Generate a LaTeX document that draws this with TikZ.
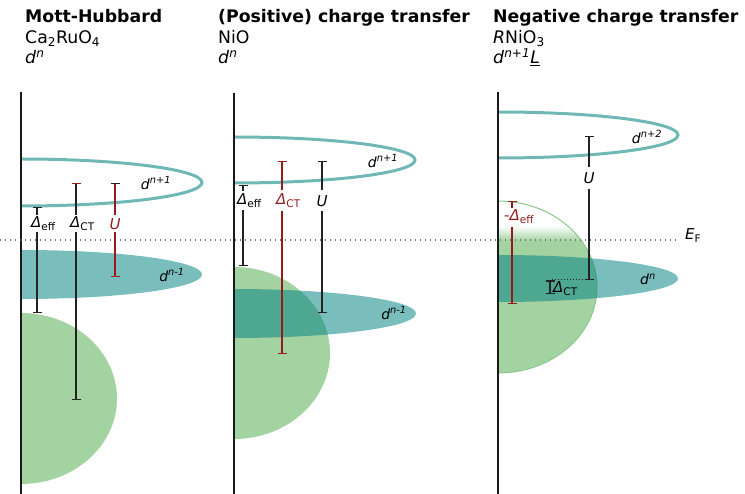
\documentclass[tikz,border=0pt]{standalone}
\usepackage{fontspec}
\setmainfont{DejaVu Sans}
\usetikzlibrary{arrows.meta}
\definecolor{tealfill}{RGB}{0,128,128}
\definecolor{tealline}{RGB}{112,184,181}
\definecolor{greenfill}{RGB}{164,211,162}
\definecolor{greenline}{RGB}{140,200,140}
\definecolor{barred}{RGB}{150,28,28}
\definecolor{bargray}{RGB}{35,35,35}
\begin{document}
\begin{tikzpicture}[x=1pt,y=-1pt,
  title/.style={anchor=base west,inner sep=0pt,font=\fontsize{17.3}{20}\selectfont\bfseries},
  sub/.style={anchor=base west,inner sep=0pt,font=\fontsize{17.3}{20}\selectfont},
  lbl/.style={inner sep=0pt,font=\fontsize{15}{18}\selectfont},
  dlbl/.style={inner sep=0pt,font=\fontsize{14}{17}\selectfont},
  axis/.style={line width=2pt,black!90},
  outl/.style={line width=3pt,tealline},
  bandfill/.style={fill=tealfill,fill opacity=0.52},
  oxy/.style={fill=greenfill},
  topbar/.style={line width=1.1pt,{Bar[width=9pt]}-},
  botbar/.style={line width=1.1pt,-{Bar[width=9pt]}},
  fermi/.style={line width=1.2pt,black!55,dash pattern=on 1.2pt off 3.8pt},
]
\useasboundingbox (0,0) rectangle (745,494);

% ---------- titles ----------
\node[title] (t1) at (25,22.7) {Mott-Hubbard};
\node[sub] (m1) at (25,43.5) {Ca\textsubscript{2}RuO\textsubscript{4}};
\node[sub] (c1) at (25,63.5) {\textit{d}\textsuperscript{\itshape n}};
\node[title] (t2) at (218,22.7) {(Positive) charge transfer};
\node[sub] (m2) at (218,43.5) {NiO};
\node[sub] (c2) at (218,63.5) {\textit{d}\textsuperscript{\itshape n}};
\node[title] (t3) at (493,22.7) {Negative charge transfer};
\node[sub] (m3) at (493,43.5) {\textit{R}NiO\textsubscript{3}};
\node[sub] (c3) at (493,63.5) {\textit{d}\textsuperscript{\itshape n+1}\underline{\textit{L}}};

% ---------- panel 1 ----------
\fill[oxy] (21,313) arc[start angle=-90,end angle=90,x radius=96,y radius=85.5] -- cycle;
\fill[bandfill] (21,250) arc[start angle=-90,end angle=90,x radius=181,y radius=24.5] -- cycle;
\draw[outl] (21,159) arc[start angle=-90,end angle=90,x radius=181,y radius=23.5];

% ---------- panel 2 ----------
\fill[oxy] (234,267) arc[start angle=-90,end angle=90,x radius=96,y radius=86] -- cycle;
\fill[bandfill] (234,289) arc[start angle=-90,end angle=90,x radius=182,y radius=24.5] -- cycle;
\draw[outl] (234,137) arc[start angle=-90,end angle=90,x radius=181,y radius=23];

% ---------- panel 3 ----------
\begin{scope}
  \clip (498,201) arc[start angle=-90,end angle=90,x radius=99,y radius=86] -- cycle;
  \fill[greenfill] (498,240) rectangle (600,380);
  \shade[top color=white,bottom color=greenfill] (498,226) rectangle (600,240.5);
\end{scope}
\draw[greenline,line width=1pt] (498,201) arc[start angle=-90,end angle=90,x radius=99,y radius=86];
\fill[bandfill] (498,255) arc[start angle=-90,end angle=90,x radius=180,y radius=23.5] -- cycle;
\draw[outl] (498,112) arc[start angle=-90,end angle=90,x radius=180,y radius=23];

% ---------- axes ----------
\draw[axis] (21,92) -- (21,494);
\draw[axis] (234,93) -- (234,494);
\draw[axis] (498,92) -- (498,494);

% ---------- Fermi level ----------
\coordinate (ef0) at (0,240);
\node[lbl,anchor=base west] (ef) at (685,240) {\textit{E}\textsubscript{F}};
\draw[fermi] (ef0) -- (678,240);

% ---------- band labels ----------
\node[dlbl] (a1) at (156,183) {\textit{d}\textsuperscript{\itshape n+1}};
\node[dlbl] (b1) at (172,275) {\textit{d}\textsuperscript{\itshape n-1}};
\node[dlbl] (a2) at (383,161) {\textit{d}\textsuperscript{\itshape n+1}};
\node[dlbl] (b2) at (394,313) {\textit{d}\textsuperscript{\itshape n-1}};
\node[dlbl] (a3) at (647,137) {\textit{d}\textsuperscript{\itshape n+2}};
\node[dlbl] (b3) at (648,279) {\textit{d}\textsuperscript{\itshape n}};

% ---------- panel 1 bars ----------
\node[lbl,anchor=west] (deff1) at (31,224) {\textit{Δ}\textsubscript{eff}};
\draw[bargray,topbar] (37,207) -- (37,215);
\draw[bargray,botbar] (37,232) -- (37,313);
\node[lbl,anchor=west] (dct1) at (70,224) {\textit{Δ}\textsubscript{CT}};
\draw[bargray,line width=1.1pt,{Bar[width=9pt,color=barred]}-] (76,183) -- (76,215);
\draw[bargray,botbar] (76,232) -- (76,400);
\node[lbl,text=barred] (u1) at (115,224) {\textit{U}};
\draw[barred,line width=1.1pt,{Bar[width=9pt,color=bargray]}-] (115,183) -- (115,215);
\draw[barred,botbar] (115,232) -- (115,277);

% ---------- panel 2 bars ----------
\node[lbl,anchor=west] (deff2) at (237,201) {\textit{Δ}\textsubscript{eff}};
\draw[bargray,topbar] (243,185) -- (243,191);
\draw[bargray,botbar] (243,210) -- (243,266);
\node[lbl,anchor=west,text=barred] (dct2) at (276,201) {\textit{Δ}\textsubscript{CT}};
\draw[barred,topbar] (282,161) -- (282,190);
\draw[barred,botbar] (282,211) -- (282,354);
\node[lbl] (u2) at (322,201) {\textit{U}};
\draw[bargray,topbar] (322,161) -- (322,190);
\draw[bargray,botbar] (322,211) -- (322,313);

% ---------- panel 3 bars ----------
\node[lbl,anchor=west,text=barred] (deff3) at (504,217) {-\textit{Δ}\textsubscript{eff}};
\draw[barred,topbar] (512,201) -- (512,208);
\draw[barred,botbar] (512,227) -- (512,304);
\node[lbl] (u3) at (589,178) {\textit{U}};
\draw[bargray,topbar] (589,136) -- (589,167);
\draw[bargray,botbar] (589,189) -- (589,280);
\coordinate (ct3) at (552,280);
\draw[bargray,line width=1pt,dash pattern=on 1pt off 2pt] (ct3) -- (589,280);
\draw[bargray,line width=1.3pt,{Bar[width=9pt]}-{Bar[width=9pt]}] (550,280.5) -- (550,294);
\node[lbl,anchor=west] (dct3) at (553,289) {\textit{Δ}\textsubscript{CT}};
\end{tikzpicture}
\end{document}
